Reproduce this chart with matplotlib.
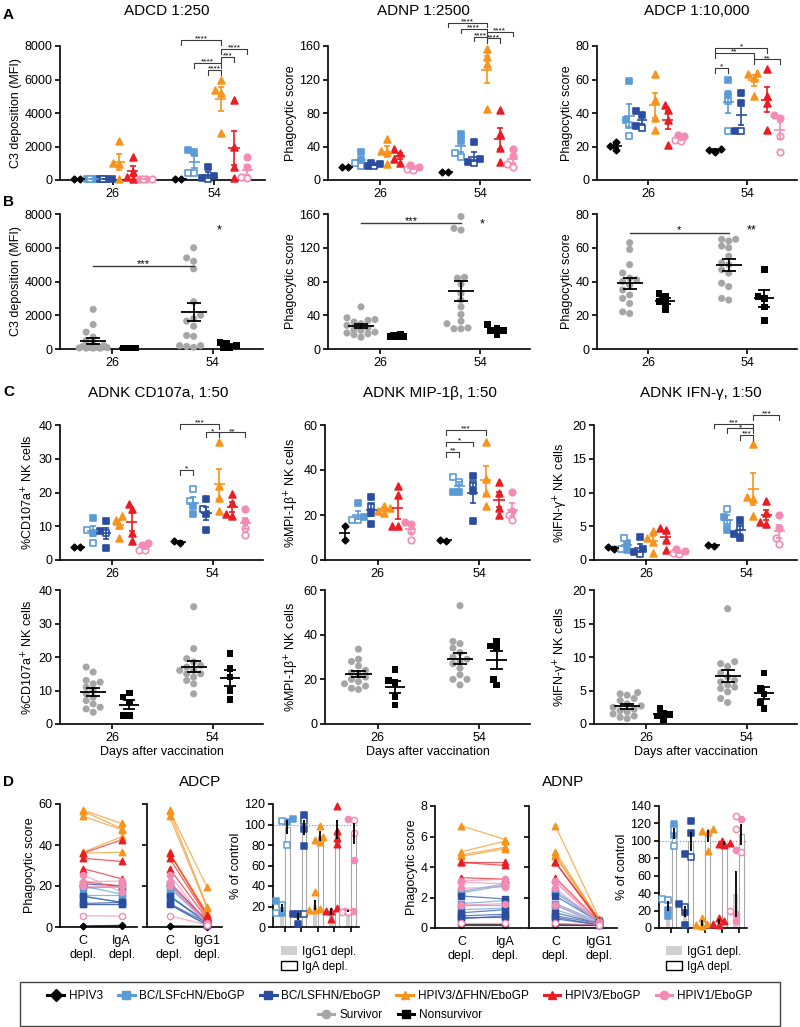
import numpy as np
import matplotlib
matplotlib.use("Agg")
import matplotlib.pyplot as plt
from matplotlib.lines import Line2D
from matplotlib.patches import Patch, Rectangle

plt.rcParams['font.family'] = ['Liberation Sans', 'DejaVu Sans']

# ---------------- data ----------------
DAYS = ['26', '54']
GROUP_NAMES = ['HPIV3', 'BC/LSFcHN/EboGP', 'BC/LSFHN/EboGP', 'HPIV3/ΔFHN/EboGP', 'HPIV3/EboGP', 'HPIV1/EboGP']
GROUP_COLORS = ['#000000', '#5b9bd5', '#2a4da0', '#f7941d', '#ea1c24', '#f28cb4']
GROUP_MARKERS = ['D', 's', 's', '^', '^', 'o']
N_OPEN = [0, 2, 1, 0, 0, 2]

# Panel A
adcd_d26 = [[60, 60], [60, 60, 60, 60], [60, 60, 60, 60], [2350, 1000, 950, 80], [1400, 500, 150, 60], [60, 60, 60, 60]]
adcd_d54 = [[60, 60], [1800, 1650, 420, 400], [800, 250, 100, 60], [6000, 5400, 5200, 2800], [4750, 2000, 800, 100], [1350, 750, 200, 100]]
adnp_d26 = [[15, 15], [34, 24, 20, 17], [20, 19, 17, 17], [49, 35, 33, 19], [37, 32, 25, 20], [18, 16, 13, 12]]
adnp_d54 = [[10, 10], [55, 47, 32, 27], [45, 25, 22, 20], [157, 147, 138, 85], [83, 55, 38, 22], [37, 29, 19, 15]]
adcp_d26 = [[18, 20.5, 22.5], [59, 36, 33, 26], [41, 39, 32, 31], [63, 48, 37, 30], [45, 42, 36, 21], [27, 26, 24, 23]]
adcp_d54 = [[17, 18, 18.5], [60, 51, 47, 29], [52, 46, 29, 29], [64, 63, 61, 50], [66, 50, 46, 30], [39, 37, 26, 17]]

# Panel B (survivor / nonsurvivor)
b_adcd_s26 = [2350, 1450, 1000, 700, 500, 300, 200, 150, 100, 100, 80, 60, 50, 50, 50]
b_adcd_n26 = [60, 60, 60, 60, 60]
b_adcd_s54 = [6000, 5400, 5200, 4750, 2800, 2000, 1800, 1650, 1350, 800, 750, 200, 200, 150, 100]
b_adcd_n54 = [400, 350, 200, 100, 50]
b_adnp_s26 = [50, 37, 35, 34, 32, 30, 28, 25, 23, 22, 20, 19, 18, 17, 14]
b_adnp_n26 = [17, 16, 15, 15, 14]
b_adnp_s54 = [157, 143, 141, 85, 84, 77, 66, 58, 50, 41, 33, 30, 25, 24, 24]
b_adnp_n54 = [29, 25, 22, 22, 17]
b_adcp_s26 = [63, 59, 50, 45, 42, 41, 40, 38, 35, 32, 30, 27, 22, 21]
b_adcp_n26 = [33, 31, 28, 27, 23]
b_adcp_s54 = [65, 65, 64, 61, 60, 55, 51, 50, 47, 45, 39, 37, 30, 29]
b_adcp_n54 = [47, 31, 30, 25, 17]

# Panel C (groups)
cd107_d26 = [[3.8, 3.8], [12.5, 8, 9, 5], [11.5, 8.5, 3.5, 8], [13, 12, 10.5, 6.5], [16.5, 15, 8, 5.5], [5, 4.5, 3, 3]]
cd107_d54 = [[5, 5.5], [16, 13.5, 21, 17.5], [18, 13.5, 9, 15], [35, 22, 18.5, 14.5], [19.5, 17, 13.5, 13], [15, 11.5, 9.5, 7.5]]
mip_d26 = [[15, 9], [25.5, 19, 18, 18], [28, 21, 16, 24], [24, 23, 22, 21], [33, 29, 15, 15], [17, 16, 13, 9]]
mip_d54 = [[9, 8.5], [30.2, 30.2, 36.8, 34.7], [37.3, 30.6, 17.3, 33.8], [52.5, 36, 30, 23.8], [34.5, 30, 23, 20], [30.2, 22, 19.8, 17.6]]
ifn_d26 = [[1.6, 1.9], [1.5, 2.5, 3.3, 1.7], [3.4, 1.7, 1.2, 0.9], [4.3, 3.3, 2.7, 1.1], [4.7, 4.4, 3.0, 1.5], [1.7, 1.3, 1.0, 0.9]]
ifn_d54 = [[2.1, 2.2], [6.3, 4.5, 7.6, 5.5], [6.0, 3.9, 3.2, 4.9], [17.2, 9.3, 9.0, 6.5], [8.7, 7.0, 5.6, 5.3], [6.6, 4.8, 3.2, 2.4]]

# Panel C bottom (survivor / nonsurvivor)
c_cd107_s26 = [17, 15.5, 13, 12.5, 12, 11, 10, 9, 8, 7, 6, 5, 4.5, 3.5]
c_cd107_n26 = [9.2, 8, 6.5, 2.5, 2.5]
c_cd107_s54 = [35, 22.5, 19.5, 18.5, 17.5, 17, 16, 16, 15, 15, 14, 13, 12, 9]
c_cd107_n54 = [21, 16.5, 14, 10, 7.3]
c_mip_s26 = [33.5, 29, 28, 26, 24, 23, 22, 21, 20, 19, 18, 17, 16, 15.5]
c_mip_n26 = [24.5, 19.5, 18.5, 12, 8.5]
c_mip_s54 = [53, 37, 36, 34, 32, 30, 29, 28, 27, 25, 22, 20, 20, 17.5]
c_mip_n54 = [37, 35, 34, 20, 17.5]
c_ifn_s26 = [4.7, 4.5, 4.3, 3.8, 3.5, 3, 2.7, 2.5, 2.2, 2, 1.8, 1.5, 1.2, 1.0, 0.8]
c_ifn_n26 = [2.4, 1.6, 1.4, 1.2, 0.7]
c_ifn_s54 = [17.2, 9.3, 9.0, 8.6, 7.6, 7, 6.5, 6.3, 5.8, 5.5, 5.3, 4.8, 3.8, 3.2]
c_ifn_n54 = [7.6, 5.3, 4.5, 3.2, 2.3]

# Panel D paired lines
D_OPEN = [0, 0, 0, 0, 0, 1]
adcp_c = [[0.5, 0.3], [20, 19, 15.5, 15, 11], [21, 15, 11.5, 11], [57, 56.5, 54, 36.5, 36], [36, 33.5, 28.5, 22], [25.5, 22, 20, 5.5]]
adcp_iga = [[0.8, 0.5], [16, 19.5, 15.5, 12, 11], [20, 12, 12, 11], [50.5, 48, 47.5, 44, 36.5], [42.5, 32, 23.5, 20], [17, 22.5, 20, 5.3]]
adcp_igg1 = [[0.3, 0.2], [3, 2.5, 2, 1.5, 1], [3.5, 2.5, 2, 1], [19.5, 10, 9.5, 7, 6], [6, 5, 4, 3], [2, 1.5, 1.5, 1]]
adnp_c = [[0.25, 0.2], [2.4, 2.3, 1.6, 1.5, 1.2], [2.1, 1.0, 0.8, 0.6, 0.7], [6.7, 5.0, 4.8, 4.7], [4.3, 4.3, 3.3], [3.1, 3.0, 2.6, 1.5, 0.3]]
adnp_iga = [[0.25, 0.2], [2.9, 2.8, 1.8, 1.5, 1.3], [1.9, 1.2, 0.9, 0.8, 0.7], [5.8, 5.7, 5.3, 5.2], [4.3, 4.1, 3.2], [3.2, 2.9, 2.7, 1.6, 0.3]]
adnp_igg1 = [[0.2, 0.2], [0.5, 0.4, 0.4, 0.3, 0.3], [0.4, 0.3, 0.3, 0.2, 0.2], [0.6, 0.5, 0.5, 0.4], [0.5, 0.4, 0.4], [0.4, 0.3, 0.3, 0.2, 0.2]]

# Panel D % of control (groups 1..5)
adcp_pct_igg1 = [[25, 14, 21, 14], [13, 3, 13, 13], [34, 18, 17, 17], [19, 16, 16, 8], [16, 16, 15, 15]]
adcp_pct_iga = [[105, 102, 103, 80], [109, 96, 79, 103], [99, 88, 85, 83], [118, 94, 87, 81], [105, 65, 104, 92]]
adnp_pct_igg1 = [[21, 14, 33, 32], [28, 18, 4, 24], [12, 5, 3, 2], [12, 8, 5, 4], [16, 8, 114, 19]]
adnp_pct_iga = [[119, 107, 113, 94], [123, 109, 85, 81], [114, 111, 110, 88], [100, 98, 96, 95], [125, 90, 128, 87]]

SURV_COLOR = '#a6a6a6'

# ---------------- helpers ----------------
W, H = 800, 1027
fig = plt.figure(figsize=(W / 100, H / 100), dpi=100)


def add_ax(x0, y0, x1, y1):
    return fig.add_axes([x0 / W, 1 - y1 / H, (x1 - x0) / W, (y1 - y0) / H])


def style(ax, ylim, yticks, xlim, xticks, xlabels, ylabel=None, fs=9):
    ax.set_ylim(*ylim)
    ax.set_yticks(yticks)
    ax.set_xlim(*xlim)
    ax.set_xticks(xticks)
    ax.set_xticklabels(xlabels)
    for s in ['top', 'right']:
        ax.spines[s].set_visible(False)
    for s in ['left', 'bottom']:
        ax.spines[s].set_linewidth(1.2)
    ax.tick_params(direction='out', length=3.5, width=1.2, labelsize=fs, pad=2)
    if ylabel:
        ax.set_ylabel(ylabel, fontsize=fs, labelpad=2)


def swarm(vals, ax, d=6.0, maxw=9.0):
    pos = ax.get_position()
    xl = ax.get_xlim()
    yl = ax.get_ylim()
    ppx = pos.width * W / (xl[1] - xl[0])
    ppy = pos.height * H / (yl[1] - yl[0])
    vals = np.asarray(vals, float)
    order = np.argsort(vals)
    cands = [0.0]
    j = 1
    while j * d * 0.5 <= maxw + 1e-9:
        cands += [-j * d * 0.5, j * d * 0.5]
        j += 1
    placed = []
    offs = np.zeros(len(vals))
    for i in order:
        y = vals[i] * ppy
        best, bestd = cands[0], -1
        for c in cands:
            md = min([np.hypot(c - px, y - py) for px, py in placed] or [1e9])
            if md >= d * 0.95:
                best = c
                break
            if md > bestd:
                best, bestd = c, md
        placed.append((best, y))
        offs[i] = best / ppx
    return offs


MSIZE = {'D': 11, 's': 18, '^': 24, 'o': 22}
GS = 0.13


def group_x(center, gi):
    return center + (gi - 2.5) * GS


def mean_sem(ax, x, vals, color, hw, cw, lw=1.2, z=4):
    v = np.asarray(vals, float)
    m = v.mean()
    se = v.std(ddof=1) / np.sqrt(len(v)) if len(v) > 1 else 0
    ax.plot([x - hw, x + hw], [m, m], color=color, lw=lw, zorder=z, solid_capstyle='butt')
    ax.plot([x, x], [m - se, m + se], color=color, lw=lw, zorder=z)
    for yy in (m - se, m + se):
        ax.plot([x - cw, x + cw], [yy, yy], color=color, lw=lw, zorder=z, solid_capstyle='butt')


def plot_groups(ax, day_data, center):
    for gi, vals in enumerate(day_data):
        x0 = group_x(center, gi)
        c = GROUP_COLORS[gi]
        mk = GROUP_MARKERS[gi]
        offs = swarm(vals, ax, d=6.0, maxw=6.0)
        n = len(vals)
        for k, (v, o) in enumerate(zip(vals, offs)):
            op = k >= n - N_OPEN[gi]
            ax.scatter(x0 + o, v, marker=mk, s=MSIZE[mk], facecolor='white' if op else c,
                       edgecolor=c, linewidth=1.2, zorder=3, clip_on=False)
        mean_sem(ax, x0, vals, c, 0.055, 0.03)


def bracket(ax, g1, g2, y, text, drop, center=2.0, fs=6):
    x1 = group_x(center, g1)
    x2 = group_x(center, g2)
    ax.plot([x1, x1, x2, x2], [y - drop, y, y, y - drop], color='#3a3a3a', lw=0.8, clip_on=False, zorder=5)
    ax.annotate(text, ((x1 + x2) / 2, y), xytext=(0, -0.4), textcoords='offset points',
                ha='center', va='baseline', fontsize=fs, annotation_clip=False)


def plot_surv(ax, s26, n26, s54, n54):
    for center, s, n in ((1, s26, n26), (2, s54, n54)):
        xs = center - 0.19
        xn = center + 0.17
        o = swarm(s, ax, d=7.0, maxw=14.0)
        ax.scatter(xs + o, s, s=26, color=SURV_COLOR, edgecolor='none', zorder=3, clip_on=False)
        o = swarm(n, ax, d=6.5, maxw=10.0)
        ax.scatter(xn + o, n, marker='s', s=22, color='black', edgecolor='none', zorder=3, clip_on=False)
        mean_sem(ax, xs, s, 'black', 0.13, 0.07, lw=1.3)
        mean_sem(ax, xn, n, 'black', 0.1, 0.06, lw=1.3)


def sig_line(ax, y, text, fs=8):
    x1, x2 = 1 - 0.19, 2 - 0.19
    ax.plot([x1, x2], [y, y], color='#3a3a3a', lw=1.0, zorder=5)
    ax.annotate(text, ((x1 + x2) / 2, y), xytext=(0, -0.3), textcoords='offset points',
                ha='center', va='baseline', fontsize=fs)


XL = (0.48, 2.5)

# ---------------- Panel A ----------------
axA1 = add_ax(60, 46, 265, 180)
style(axA1, (0, 8000), [0, 2000, 4000, 6000, 8000], XL, [1, 2], DAYS, 'C3 deposition (MFI)')
plot_groups(axA1, adcd_d26, 1)
plot_groups(axA1, adcd_d54, 2)
bracket(axA1, 0, 3, 8350, '****', 300)
bracket(axA1, 3, 5, 7850, '****', 300)
bracket(axA1, 3, 4, 7350, '***', 300)
bracket(axA1, 1, 3, 7000, '****', 300)
bracket(axA1, 2, 3, 6550, '****', 300)

axA2 = add_ax(328, 46, 530, 180)
style(axA2, (0, 160), [0, 40, 80, 120, 160], XL, [1, 2], DAYS, 'Phagocytic score')
plot_groups(axA2, adnp_d26, 1)
plot_groups(axA2, adnp_d54, 2)
bracket(axA2, 0, 3, 188, '****', 5)
bracket(axA2, 1, 3, 180, '****', 5)
bracket(axA2, 2, 3, 171, '****', 5)
bracket(axA2, 3, 5, 177, '****', 5)
bracket(axA2, 3, 4, 169, '****', 5)

axA3 = add_ax(597, 46, 797, 180)
style(axA3, (0, 80), [0, 20, 40, 60, 80], XL, [1, 2], DAYS, 'Phagocytic score')
plot_groups(axA3, adcp_d26, 1)
plot_groups(axA3, adcp_d54, 2)
bracket(axA3, 0, 4, 79, '*', 3)
bracket(axA3, 0, 3, 76, '**', 3)
bracket(axA3, 0, 1, 67, '*', 3)
bracket(axA3, 3, 5, 72, '**', 3)

# ---------------- Panel B ----------------
axB1 = add_ax(60, 214, 263, 349)
style(axB1, (0, 8000), [0, 2000, 4000, 6000, 8000], XL, [1, 2], DAYS, 'C3 deposition (MFI)')
plot_surv(axB1, b_adcd_s26, b_adcd_n26, b_adcd_s54, b_adcd_n54)
sig_line(axB1, 4900, '***')
axB1.text(2.06, 6700, '*', ha='center', va='bottom', fontsize=9)

axB2 = add_ax(328, 214, 530, 349)
style(axB2, (0, 160), [0, 40, 80, 120, 160], XL, [1, 2], DAYS, 'Phagocytic score')
plot_surv(axB2, b_adnp_s26, b_adnp_n26, b_adnp_s54, b_adnp_n54)
sig_line(axB2, 149, '***')
axB2.text(2.02, 140, '*', ha='center', va='bottom', fontsize=9)

axB3 = add_ax(597, 214, 797, 349)
style(axB3, (0, 80), [0, 20, 40, 60, 80], XL, [1, 2], DAYS, 'Phagocytic score')
plot_surv(axB3, b_adcp_s26, b_adcp_n26, b_adcp_s54, b_adcp_n54)
sig_line(axB3, 69, '*')
axB3.text(2.04, 67, '**', ha='center', va='bottom', fontsize=9)

# ---------------- Panel C ----------------
axC1 = add_ax(60, 425, 263, 560)
style(axC1, (0, 40), [0, 10, 20, 30, 40], XL, [1, 2], DAYS, '%CD107a$^{+}$ NK cells')
plot_groups(axC1, cd107_d26, 1)
plot_groups(axC1, cd107_d54, 2)
bracket(axC1, 0, 3, 40.2, '***', 1.5)
bracket(axC1, 2, 3, 37.8, '*', 1.5)
bracket(axC1, 3, 5, 37.8, '**', 1.5)
bracket(axC1, 0, 1, 26.7, '*', 1.5)

axC2 = add_ax(325, 425, 530, 560)
style(axC2, (0, 60), [0, 20, 40, 60], XL, [1, 2], DAYS, '%MPI-1β$^{+}$ NK cells')
plot_groups(axC2, mip_d26, 1)
plot_groups(axC2, mip_d54, 2)
bracket(axC2, 0, 3, 57.7, '***', 2)
bracket(axC2, 0, 2, 52.5, '*', 2)
bracket(axC2, 0, 1, 48, '**', 2)

axC3 = add_ax(594, 425, 797, 560)
style(axC3, (0, 20), [0, 5, 10, 15, 20], XL, [1, 2], DAYS, '%IFN-γ$^{+}$ NK cells')
plot_groups(axC3, ifn_d26, 1)
plot_groups(axC3, ifn_d54, 2)
bracket(axC3, 0, 3, 20.2, '***', 0.7)
bracket(axC3, 1, 3, 19.5, '*', 0.7)
bracket(axC3, 2, 3, 18.5, '***', 0.7)
bracket(axC3, 3, 5, 21.5, '***', 0.7)

axC4 = add_ax(60, 590, 263, 724)
style(axC4, (0, 40), [0, 10, 20, 30, 40], XL, [1, 2], DAYS, '%CD107a$^{+}$ NK cells')
plot_surv(axC4, c_cd107_s26, c_cd107_n26, c_cd107_s54, c_cd107_n54)
axC4.set_xlabel('Days after vaccination', fontsize=9, labelpad=2)

axC5 = add_ax(325, 590, 530, 724)
style(axC5, (0, 60), [0, 20, 40, 60], XL, [1, 2], DAYS, '%MPI-1β$^{+}$ NK cells')
plot_surv(axC5, c_mip_s26, c_mip_n26, c_mip_s54, c_mip_n54)
axC5.set_xlabel('Days after vaccination', fontsize=9, labelpad=2)

axC6 = add_ax(594, 590, 797, 724)
style(axC6, (0, 20), [0, 5, 10, 15, 20], XL, [1, 2], DAYS, '%IFN-γ$^{+}$ NK cells')
plot_surv(axC6, c_ifn_s26, c_ifn_n26, c_ifn_s54, c_ifn_n54)
axC6.set_xlabel('Days after vaccination', fontsize=9, labelpad=2)


# ---------------- Panel D ----------------
def plot_pairs(ax, left, right):
    for gi in range(6):
        c = GROUP_COLORS[gi]
        mk = GROUP_MARKERS[gi]
        n = len(left[gi])
        for k, (a, b) in enumerate(zip(left[gi], right[gi])):
            op = k >= n - D_OPEN[gi]
            ax.plot([0, 1], [a, b], color=c, lw=0.9, alpha=0.7, zorder=2)
            ax.scatter([0, 1], [a, b], marker=mk, s=MSIZE[mk] * 0.9,
                       facecolor='white' if op else c, edgecolor=c, linewidth=1.0, zorder=3, clip_on=False)


def plot_pct(ax, igg1, iga):
    for gi in range(5):
        c = GROUP_COLORS[gi + 1]
        mk = GROUP_MARKERS[gi + 1]
        nop = N_OPEN[gi + 1]
        for vals, dx, filled in ((igg1[gi], -0.17, True), (iga[gi], 0.17, False)):
            x0 = gi + dx
            m = np.mean(vals)
            if filled:
                ax.bar(x0, m, width=0.26, color='#cfcfcf', edgecolor='none', zorder=1)
            else:
                ax.bar(x0, m, width=0.26, color='white', edgecolor='#a8a8a8', lw=0.8, zorder=1)
            o = swarm(vals, ax, d=5.5, maxw=5.5)
            n = len(vals)
            for k, (v, oo) in enumerate(zip(vals, o)):
                op = k >= n - nop
                ax.scatter(x0 + oo, v, marker=mk, s=MSIZE[mk] * 0.9, facecolor='white' if op else c,
                           edgecolor=c, linewidth=1.1, zorder=3, clip_on=False)
            mean_sem(ax, x0, vals, 'black', 0.0, 0.04, lw=1.3, z=4)
    ax.axhline(100, color='#8a8a8a', lw=0.8, ls=':', zorder=0)


DXL = (-0.6, 1.4)
axD1 = add_ax(60, 804, 137, 927)
style(axD1, (0, 60), [0, 20, 40, 60], DXL, [0, 1], ['C\ndepl.', 'IgA\ndepl.'], 'Phagocytic score')
axD1.tick_params(axis='x', length=0, pad=6)
plot_pairs(axD1, adcp_c, adcp_iga)

axD2 = add_ax(147, 804, 222, 927)
style(axD2, (0, 60), [0, 20, 40, 60], DXL, [0, 1], ['C\ndepl.', 'IgG1\ndepl.'])
axD2.tick_params(axis='x', length=0, pad=6)
axD2.set_yticklabels([])
plot_pairs(axD2, adcp_c, adcp_igg1)

PXL = (-0.7, 4.5)
axD3 = add_ax(273, 804, 359, 927)
style(axD3, (0, 120), [0, 20, 40, 60, 80, 100, 120], PXL, [0, 1, 2, 3, 4], ['', '', '', '', ''], '% of control')
plot_pct(axD3, adcp_pct_igg1, adcp_pct_iga)

axD4 = add_ax(435, 806, 523, 928)
style(axD4, (0, 8), [0, 2, 4, 6, 8], DXL, [0, 1], ['C\ndepl.', 'IgA\ndepl.'], 'Phagocytic score')
axD4.tick_params(axis='x', length=0, pad=6)
plot_pairs(axD4, adnp_c, adnp_iga)

axD5 = add_ax(529, 806, 617, 928)
style(axD5, (0, 8), [0, 2, 4, 6, 8], DXL, [0, 1], ['C\ndepl.', 'IgG1\ndepl.'])
axD5.tick_params(axis='x', length=0, pad=6)
axD5.set_yticklabels([])
plot_pairs(axD5, adnp_c, adnp_igg1)

axD6 = add_ax(659, 806, 747, 928)
style(axD6, (0, 140), [0, 20, 40, 60, 80, 100, 120, 140], PXL, [0, 1, 2, 3, 4], ['', '', '', '', ''], '% of control')
plot_pct(axD6, adnp_pct_igg1, adnp_pct_iga)

dep_handles = [Patch(facecolor='#cfcfcf', edgecolor='none', label='IgG1 depl.'),
               Patch(facecolor='white', edgecolor='black', label='IgA depl.')]
for xl in (275, 660):
    fig.legend(handles=dep_handles, loc='upper left', bbox_to_anchor=(xl / W, 1 - 940 / H),
               frameon=False, fontsize=8.5, handlelength=1.4, handleheight=0.8,
               labelspacing=0.25, handletextpad=0.4, borderpad=0)


# ---------------- titles & labels ----------------
def ftext(x, y, s, **kw):
    fig.text(x / W, 1 - y / H, s, **kw)


ftext(167, 11, 'ADCD 1:250', ha='center', va='center', fontsize=11)
ftext(423, 11, 'ADNP 1:2500', ha='center', va='center', fontsize=11)
ftext(697, 11, 'ADCP 1:10,000', ha='center', va='center', fontsize=11)
ftext(158, 393, 'ADNK CD107a, 1:50', ha='center', va='center', fontsize=11)
ftext(430, 393, 'ADNK MIP-1β, 1:50', ha='center', va='center', fontsize=11)
ftext(701, 393, 'ADNK IFN-γ, 1:50', ha='center', va='center', fontsize=11)
ftext(200, 782, 'ADCP', ha='center', va='center', fontsize=11)
ftext(563, 782, 'ADNP', ha='center', va='center', fontsize=11)
for lab, y in (('A', 15), ('B', 202), ('C', 392), ('D', 782)):
    ftext(3, y, lab, ha='left', va='center', fontsize=11, fontweight='bold')

# ---------------- bottom legend ----------------
row1 = [Line2D([0], [0], color=GROUP_COLORS[i], marker=GROUP_MARKERS[i], lw=2.2, markersize=6,
               label=GROUP_NAMES[i]) for i in range(6)]
row2 = [Line2D([0], [0], color=SURV_COLOR, marker='o', lw=2.2, markersize=6, label='Survivor'),
        Line2D([0], [0], color='black', marker='s', lw=2.2, markersize=6, label='Nonsurvivor')]
fig.legend(handles=row1, loc='center', bbox_to_anchor=(0.5, 1 - 996 / H), ncol=6, frameon=False,
           fontsize=8.5, handlelength=1.4, columnspacing=1.3, handletextpad=0.4, borderpad=0)
fig.legend(handles=row2, loc='center', bbox_to_anchor=(0.5, 1 - 1015 / H), ncol=2, frameon=False,
           fontsize=8.5, handlelength=1.4, columnspacing=1.3, handletextpad=0.4, borderpad=0)
fig.patches.append(Rectangle((20 / W, 1 - 1026 / H), 760 / W, 44 / H, transform=fig.transFigure,
                             fill=False, edgecolor='#444444', lw=1.0))

fig.savefig('out.png', dpi=100)
